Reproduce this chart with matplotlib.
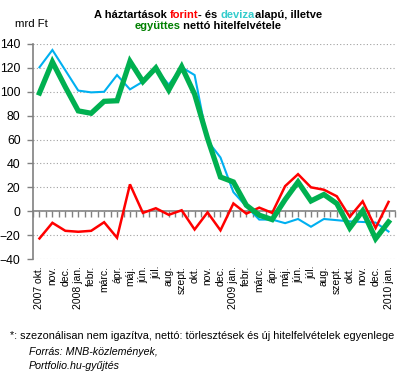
import matplotlib
matplotlib.use('Agg')
import matplotlib.pyplot as plt
import numpy as np

plt.rcParams['font.family'] = ['Liberation Sans', 'DejaVu Sans']

months = ['2007 okt.', 'nov.', 'dec.', '2008 jan.', 'febr.', 'márc.', 'ápr.',
          'máj.', 'jún.', 'júl.', 'aug.', 'szept.', 'okt.', 'nov.', 'dec.',
          '2009 jan.', 'febr.', 'márc.', 'ápr.', 'máj.', 'jún.', 'júl.',
          'aug.', 'szept.', 'okt.', 'nov.', 'dec.', '2010 jan.']

# mrd Ft
deviza = [120.5, 135, 118, 101, 99.5, 100, 114, 102, 108.5, 119, 106, 120.5,
          114, 59, 45, 16, 4, -7, -7, -10, -6.5, -13, -6.5, -7.5, -8.5, -9,
          -9.5, -17]
forint = [-22.8, -9.7, -16.4, -17.2, -16.4, -9.2, -22.2, 22.5, -1.4, 2.5, -3,
          0.8, -15.3, -1, -16, 6.5, -2, 3, -1.4, 21, 31, 20, 18, 12.5, -4.7,
          8.3, -14, 7.8]
egyutt = [99, 125, 104, 84, 82, 92, 92.5, 125.5, 108.5, 120, 101.5, 121,
          98, 61, 28.6, 24.5, 5, -3.3, -7, 9.7, 24.5, 8.6, 14, 6.4, -14, 0.3,
          -23, -9]

W, H = 408, 379
fig = plt.figure(figsize=(W / 100, H / 100), dpi=100)
ax = fig.add_axes([33 / W, 1 - 259 / H, (395 - 33) / W, (259 - 44) / H])

x = np.arange(len(months))
ax.plot(x, deviza, color='#00b0f0', linewidth=1.5, solid_joinstyle='miter')
ax.plot(x, forint, color='#ff0000', linewidth=1.8, solid_joinstyle='miter')
ax.plot(x, egyutt, color='#00b050', linewidth=3.8, solid_joinstyle='miter')

ax.set_xlim(-0.5, len(months) - 0.5)
ax.set_ylim(-40, 140)
ax.set_yticks(np.arange(-40, 141, 20))
ax.yaxis.grid(True, color='#a0a0a0', linestyle=(0, (1, 2)), linewidth=0.8)
ax.set_axisbelow(True)
for s in ['top', 'right', 'bottom']:
    ax.spines[s].set_visible(False)
ax.spines['left'].set_color('#808080')
ax.spines['left'].set_linewidth(1.2)
ax.tick_params(axis='y', colors='#808080', length=4, width=1, labelsize=8.8,
               labelcolor='black', pad=5)

ax.set_xticks(x)
ax.set_xticklabels(months, rotation=90, fontsize=7.5)
ax.tick_params(axis='x', length=0, pad=5)

# x axis line at zero with tick marks
sec = ax.secondary_xaxis(40 / 180)
sec.set_xticks(np.arange(-0.5, len(months), 0.5))
sec.set_xticklabels([])
sec.spines['bottom'].set_color('#808080')
sec.spines['bottom'].set_linewidth(1.2)
sec.tick_params(axis='x', colors='#808080', length=4, width=1, direction='out')

fig.text(15 / W, 1 - 24 / H, 'mrd Ft', fontsize=8.2, va='center', ha='left')

# title with coloured words
def colored_line(parts, y):
    texts = []
    for s, c in parts:
        t = fig.text(0, y, s, color=c, fontsize=8, fontweight='bold',
                     va='center', ha='left')
        texts.append(t)
    r = fig.canvas.get_renderer()
    widths = [t.get_window_extent(r).width for t in texts]
    start = 208 - sum(widths) / 2
    for t, w in zip(texts, widths):
        t.set_x(start / W)
        start += w

colored_line([('A háztartások ', 'black'), ('forint', '#ff0000'),
              ('- és ', 'black'), ('deviza', '#33cccc'),
              ('alapú, illetve', 'black')], 1 - 15 / H)
colored_line([('együttes', '#008000'), (' nettó hitelfelvétele', 'black')],
             1 - 26 / H)

fig.text(10 / W, 1 - 336 / H,
         '*: szezonálisan nem igazítva, nettó: törlesztések és új hitelfelvételek egyenlege',
         fontsize=7.8, va='center', ha='left')
fig.text(29 / W, 1 - 352 / H, 'Forrás: MNB-közlemények,', fontsize=7.7,
         style='italic', va='center', ha='left')
fig.text(29 / W, 1 - 366 / H, 'Portfolio.hu-gyűjtés', fontsize=7.7,
         style='italic', va='center', ha='left')

fig.savefig('out.png', dpi=100)
